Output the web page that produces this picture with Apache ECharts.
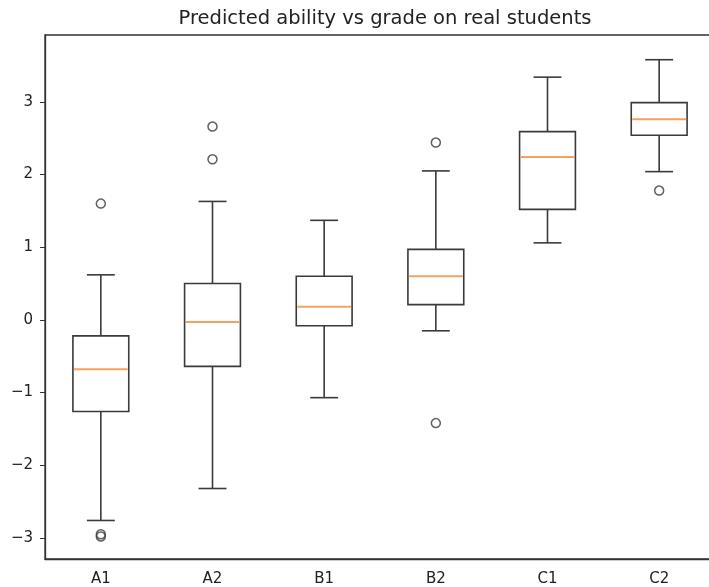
<!DOCTYPE html>
<html>
<head>
<meta charset="utf-8">
<script src="https://cdn.jsdelivr.net/npm/echarts@6/dist/echarts.min.js"></script>
<style>
  html, body { margin: 0; padding: 0; background: #fff; }
  #chart { width: 709px; height: 587px; }
</style>
</head>
<body>
<div id="chart"></div>
<script>
// grades on the x axis
const categories = ['A1', 'A2', 'B1', 'B2', 'C1', 'C2'];
// box statistics per grade
const whiskerLow = [-2.76, -2.32, -1.07, -0.15, 1.06, 2.04];
const q1 = [-1.26, -0.64, -0.08, 0.21, 1.52, 2.54];
const median = [-0.68, -0.03, 0.18, 0.60, 2.24, 2.76];
const q3 = [-0.22, 0.50, 0.60, 0.97, 2.59, 2.99];
const whiskerHigh = [0.62, 1.63, 1.37, 2.05, 3.34, 3.58];
// fliers: [grade, value]
const outliers = [
  ['A1', 1.60], ['A1', -2.95], ['A1', -2.98],
  ['A2', 2.66], ['A2', 2.21],
  ['B2', 2.44], ['B2', -1.42],
  ['C2', 1.78]
];
const yTicks = [-3, -2, -1, 0, 1, 2, 3];

const lineColor = '#3a3a3a';
const medianColor = '#f8a060';
const font = 'DejaVu Sans';

const boxData = categories.map((c, i) => [i, whiskerLow[i], q1[i], median[i], q3[i], whiskerHigh[i]]);

// matplotlib style box: half-band box, quarter-band caps
const renderBox = (params, api) => {
  const i = api.value(0);
  const band = api.size([1, 0])[0];
  const half = band * 0.25;
  const cap = band * 0.125;
  const pLow = api.coord([i, api.value(1)]);
  const pQ1 = api.coord([i, api.value(2)]);
  const pMed = api.coord([i, api.value(3)]);
  const pQ3 = api.coord([i, api.value(4)]);
  const pHigh = api.coord([i, api.value(5)]);
  const x = pQ1[0];
  const stroke = { stroke: lineColor, lineWidth: 1.6, fill: null };
  return {
    type: 'group',
    children: [
      { type: 'line', shape: { x1: x, y1: pLow[1], x2: x, y2: pQ1[1] }, style: stroke },
      { type: 'line', shape: { x1: x, y1: pQ3[1], x2: x, y2: pHigh[1] }, style: stroke },
      { type: 'line', shape: { x1: x - cap, y1: pLow[1], x2: x + cap, y2: pLow[1] }, style: stroke },
      { type: 'line', shape: { x1: x - cap, y1: pHigh[1], x2: x + cap, y2: pHigh[1] }, style: stroke },
      { type: 'rect', shape: { x: x - half, y: pQ3[1], width: half * 2, height: pQ1[1] - pQ3[1] }, style: stroke },
      { type: 'line', shape: { x1: x - half + 1, y1: pMed[1], x2: x + half - 1, y2: pMed[1] }, style: { stroke: medianColor, lineWidth: 2 } }
    ]
  };
};

const chart = echarts.init(document.getElementById('chart'));
chart.setOption({
  animation: false,
  title: {
    text: 'Predicted ability vs grade on real students',
    left: 380,
    textAlign: 'center',
    top: 4,
    textStyle: { fontFamily: font, fontSize: 19.5, fontWeight: 'normal', color: '#222' }
  },
  grid: {
    left: 45,
    top: 35,
    width: 670,
    height: 524,
    outerBoundsMode: 'none',
    show: true,
    borderColor: '#333',
    borderWidth: 1.3
  },
  xAxis: {
    type: 'category',
    data: categories,
    boundaryGap: true,
    axisLine: { onZero: false, lineStyle: { color: '#333', width: 1.3 } },
    axisTick: { alignWithLabel: true, length: 5, lineStyle: { color: '#333' } },
    axisLabel: { fontFamily: font, fontSize: 15, color: '#222', margin: 13 },
    splitLine: { show: false }
  },
  yAxis: {
    type: 'value',
    min: -3.29,
    max: 3.92,
    axisLine: { show: true, lineStyle: { color: '#333', width: 1.3 } },
    axisTick: { show: true, length: 5, customValues: yTicks, lineStyle: { color: '#333' } },
    axisLabel: {
      fontFamily: font,
      fontSize: 15,
      color: '#222',
      margin: 12,
      customValues: yTicks,
      formatter: (v) => String(v).replace('-', '\u2212')
    },
    splitLine: { show: false }
  },
  series: [
    {
      type: 'custom',
      renderItem: renderBox,
      data: boxData,
      encode: { x: 0, y: [1, 2, 3, 4, 5] },
      z: 2
    },
    {
      type: 'scatter',
      data: outliers,
      symbol: 'circle',
      symbolSize: 9,
      itemStyle: { color: 'rgba(255,255,255,0)', borderColor: lineColor, borderWidth: 1.5 },
      z: 3
    }
  ]
});
</script>
</body>
</html>
